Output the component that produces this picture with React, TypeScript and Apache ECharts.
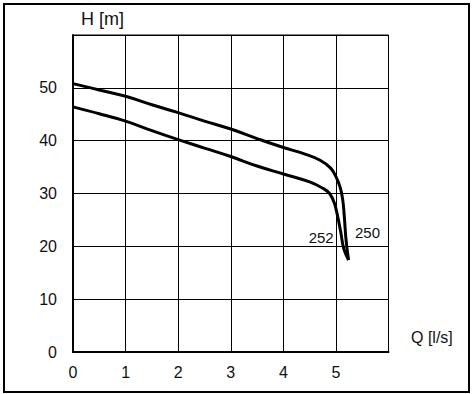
import React, { useEffect, useRef } from "react";
import * as echarts from "echarts";

const xTicks = [0, 1, 2, 3, 4, 5];
const yTicks = [0, 10, 20, 30, 40, 50];

const curve250: [number, number][] = [
  [0, 50.8], [0.5, 49.6], [1, 48.4], [1.5, 46.8], [2, 45.3], [2.5, 43.7],
  [3, 42.2], [3.5, 40.4], [4, 38.7], [4.4, 37.5], [4.7, 36.3], [4.9, 34.8],
  [5.0, 33.2], [5.08, 31.2], [5.13, 28.8], [5.16, 25.6], [5.19, 21.5], [5.24, 17.4],
];

const curve252: [number, number][] = [
  [0, 46.4], [0.5, 45.1], [1, 43.7], [1.5, 41.9], [2, 40.2], [2.5, 38.6],
  [3, 37.0], [3.5, 35.2], [4, 33.7], [4.5, 32.2], [4.75, 31.0], [4.88, 30.0],
  [4.97, 28.2], [5.03, 25.8], [5.09, 22.8], [5.15, 19.5], [5.24, 17.4],
];

const label250 = { name: "250", coord: [5.6, 22.6] };
const label252 = { name: "252", coord: [4.72, 21.7] };

const FONT = "'Liberation Sans', Arial, sans-serif";

export default function App() {
  const ref = useRef<HTMLDivElement>(null);
  useEffect(() => {
    if (!ref.current) return;
    const chart = echarts.init(ref.current, null, { renderer: "svg" });
    const mk = (lab: { name: string; coord: number[] }) => ({
      symbol: "circle",
      symbolSize: 2,
      silent: true,
      itemStyle: { color: "rgba(0,0,0,0)" },
      label: {
        show: true,
        position: "inside",
        formatter: lab.name,
        color: "#111",
        fontSize: 15,
        fontFamily: FONT,
      },
      data: [{ name: lab.name, coord: lab.coord }],
    });
    chart.setOption({
      animation: false,
      backgroundColor: "#fff",
      grid: {
        left: 73,
        top: 35,
        width: 315.5,
        height: 317,
        show: true,
        borderColor: "#000",
        borderWidth: 1,
        backgroundColor: "transparent",
      },
      xAxis: {
        type: "value",
        min: 0,
        max: 6,
        interval: 1,
        axisLine: { show: true, onZero: false, lineStyle: { color: "#000", width: 2 } },
        axisTick: { show: false },
        splitLine: { show: true, lineStyle: { color: "#000", width: 1 } },
        axisLabel: {
          color: "#111",
          fontSize: 16,
          fontFamily: FONT,
          margin: 12,
          formatter: (v: number) => (xTicks.includes(v) ? String(v) : ""),
        },
      },
      yAxis: {
        type: "value",
        min: 0,
        max: 60,
        interval: 10,
        axisLine: { show: true, onZero: false, lineStyle: { color: "#000", width: 2 } },
        axisTick: { show: false },
        splitLine: { show: true, lineStyle: { color: "#000", width: 1 } },
        axisLabel: {
          color: "#111",
          fontSize: 16,
          fontFamily: FONT,
          margin: 16,
          formatter: (v: number) => (yTicks.includes(v) ? String(v) : ""),
        },
      },
      graphic: [
        {
          type: "rect",
          shape: { x: 4, y: 4, width: 465, height: 388 },
          style: { fill: "none", stroke: "#000", lineWidth: 2 },
          silent: true,
        },
        {
          type: "text",
          x: 81,
          y: 19,
          style: {
            text: "H [m]",
            fill: "#111",
            fontSize: 18,
            fontFamily: FONT,
            verticalAlign: "middle",
          },
        },
        {
          type: "text",
          x: 411,
          y: 337,
          style: {
            text: "Q [l/s]",
            fill: "#111",
            fontSize: 16,
            fontFamily: FONT,
            verticalAlign: "middle",
          },
        },
      ],
      series: [
        {
          type: "line",
          name: "250",
          data: curve250,
          showSymbol: false,
          smooth: 0.4,
          lineStyle: { color: "#000", width: 3 },
          itemStyle: { color: "#000" },
          markPoint: mk(label250),
        },
        {
          type: "line",
          name: "252",
          data: curve252,
          showSymbol: false,
          smooth: 0.4,
          lineStyle: { color: "#000", width: 3 },
          itemStyle: { color: "#000" },
          markPoint: mk(label252),
        },
      ],
    });
    return () => chart.dispose();
  }, []);
  return (
    <div
      ref={ref}
      style={{ position: "fixed", left: 0, top: 0, width: 473, height: 394, background: "#fff" }}
    />
  );
}
